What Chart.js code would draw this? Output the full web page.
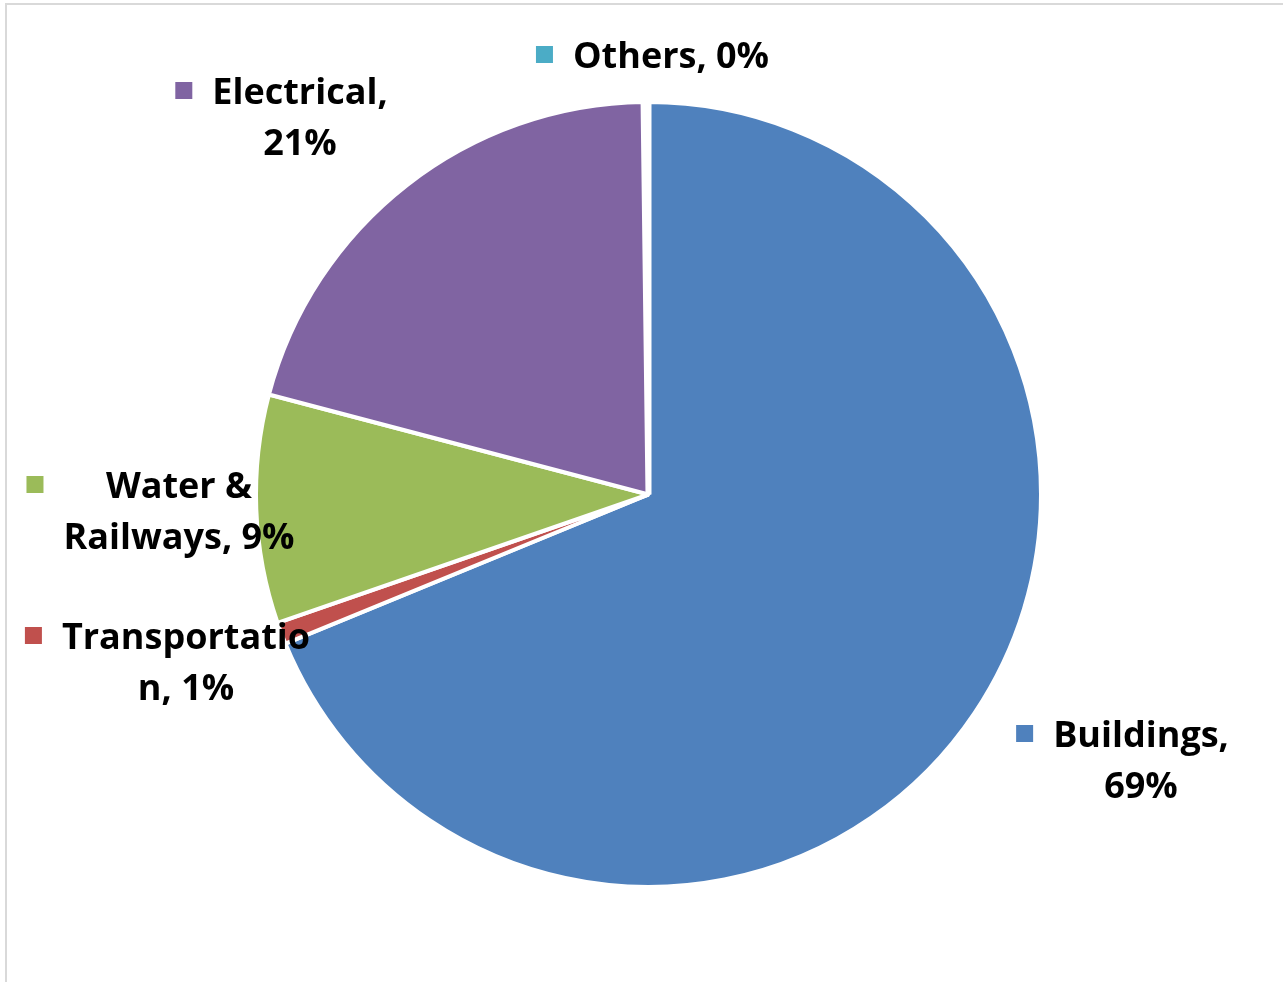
<!DOCTYPE html>
<html>
<head>
<meta charset="utf-8">
<script src="https://cdn.jsdelivr.net/npm/chart.js@4"></script>
<style>
  html, body { margin: 0; padding: 0; background: #fff; }
  #wrap { position: relative; width: 1283px; height: 982px; overflow: hidden; }
  #frame { position: absolute; left: 5px; top: 3px; width: 1300px; height: 1000px; border: 2px solid #d9d9d9; box-sizing: border-box; }
  canvas { position: absolute; left: 0; top: 0; }
</style>
</head>
<body>
<div id="wrap">
  <div id="frame"></div>
  <canvas id="pie" width="1283" height="982"></canvas>
</div>
<script>
// Categories and shares (%)
const categories = ['Buildings', 'Transportation', 'Water & Railways', 'Electrical', 'Others'];
const shares = [68.8, 0.9, 9.4, 20.7, 0.2];
const colors = ['#4F81BD', '#C0504D', '#9BBB59', '#8064A2', '#4BACC6'];

// Label text as wrapped in the original chart
const labelLines = [
    ['Buildings,', '69%'],
    ['Transportatio', 'n, 1%'],
    ['Water &', 'Railways, 9%'],
    ['Electrical,', '21%'],
    ['Others, 0%']
];

// Where each label's text block is centred (x) and its first baseline (y)
const labelPos = [
    { x: 1141, y: 747 },
    { x: 186, y: 649 },
    { x: 179, y: 498 },
    { x: 300, y: 104 },
    { x: 671, y: 68 }
];

const FONT = 'bold 36px "Open Sans", Lato, sans-serif';
const LINE_H = 51;

// Draw Excel-style outside labels with a coloured square key
const outsideLabels = {
    id: 'outsideLabels',
    afterDraw(chart) {
        const ctx = chart.ctx;
        ctx.save();
        ctx.font = FONT;
        ctx.textBaseline = 'alphabetic';
        ctx.textAlign = 'center';
        labelLines.forEach((lines, i) => {
            const p = labelPos[i];
            let maxW = 0;
            lines.forEach(l => { maxW = Math.max(maxW, ctx.measureText(l).width); });
            ctx.fillStyle = '#000';
            lines.forEach((l, k) => {
                ctx.fillText(l, p.x, p.y + k * LINE_H);
            });
            // key square left of the block
            const left = p.x - maxW / 2;
            ctx.fillStyle = colors[i];
            ctx.fillRect(left - 37, p.y - 22, 17, 17);
        });
        ctx.restore();
    }
};

const ctx = document.getElementById('pie').getContext('2d');
const chart = new Chart(ctx, {
    type: 'pie',
    data: {
        labels: categories,
        datasets: [
            {
                data: shares,
                backgroundColor: colors,
                borderColor: '#ffffff',
                borderWidth: [4, 4, 4, 4, 6],
                borderAlign: 'center'
            }
        ]
    },
    options: {
        responsive: false,
        animation: false,
        layout: {
            padding: { left: 253, right: 239, top: 99, bottom: 92 }
        },
        plugins: {
            legend: { display: false },
            tooltip: { enabled: false }
        }
    },
    plugins: [outsideLabels]
});
</script>
</body>
</html>
